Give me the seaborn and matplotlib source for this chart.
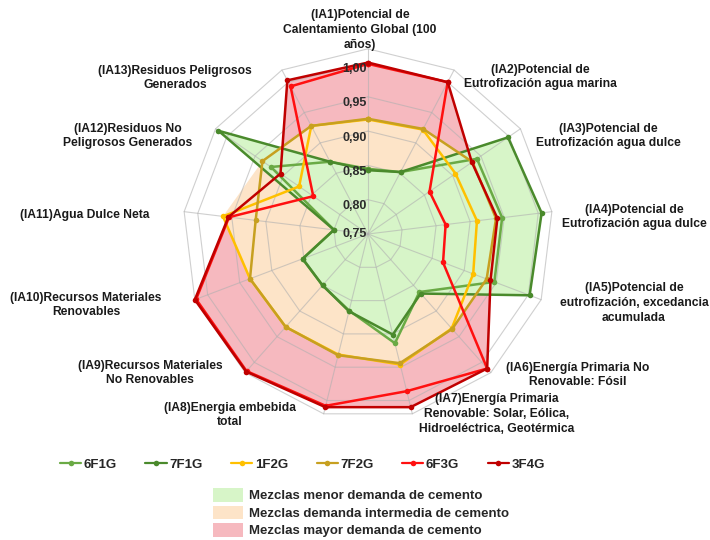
import numpy as np
import pandas as pd
import matplotlib
matplotlib.use("Agg")
import matplotlib.pyplot as plt
import matplotlib.transforms as mtrans
import matplotlib.legend as mlegend
from matplotlib.lines import Line2D
from matplotlib.patches import Patch
import seaborn as sns

# ---------------- data ----------------
categories = [
    "(IA1)Potencial de\nCalentamiento Global (100\naños)",
    "(IA2)Potencial de\nEutrofización agua marina",
    "(IA3)Potencial de\nEutrofización agua dulce",
    "(IA4)Potencial de\nEutrofización agua dulce",
    "(IA5)Potencial de\neutrofización, excedancia\nacumulada",
    "(IA6)Energía Primaria No\nRenovable: Fósil",
    "(IA7)Energía Primaria\nRenovable: Solar, Eólica,\nHidroeléctrica, Geotérmica",
    "(IA8)Energia embebida\ntotal",
    "(IA9)Recursos Materiales\nNo Renovables",
    "(IA10)Recursos Materiales\nRenovables",
    "(IA11)Agua Dulce Neta",
    "(IA12)Residuos No\nPeligrosos Generados",
    "(IA13)Residuos Peligrosos\nGenerados",
]
series_names = ["6F1G", "7F1G", "1F2G", "7F2G", "6F3G", "3F4G"]
v_6F1G = [0.845, 0.852, 0.943, 0.947, 0.947, 0.863, 0.914, 0.865, 0.850, 0.852, 0.800, 0.922, 0.869]
v_7F1G = [0.843, 0.852, 0.998, 1.005, 1.002, 0.866, 0.901, 0.866, 0.850, 0.852, 0.800, 1.015, 0.869]
v_1F2G = [0.917, 0.922, 0.905, 0.910, 0.914, 0.934, 0.946, 0.931, 0.931, 0.934, 0.963, 0.872, 0.928]
v_7F2G = [0.918, 0.923, 0.935, 0.938, 0.935, 0.935, 0.944, 0.932, 0.931, 0.934, 0.915, 0.937, 0.928]
v_6F3G = [0.998, 1.000, 0.859, 0.864, 0.867, 1.012, 0.986, 1.008, 1.017, 1.018, 0.954, 0.847, 0.993]
v_3F4G = [1.000, 1.000, 0.934, 0.940, 0.941, 1.012, 1.010, 1.010, 1.018, 1.020, 0.955, 0.905, 1.003]
tick_values = [0.75, 0.80, 0.85, 0.90, 0.95, 1.00]
tick_labels = ["0,75", "0,80", "0,85", "0,90", "0,95", "1,00"]
group_names = ["Mezclas menor demanda de cemento",
               "Mezclas demanda intermedia de cemento",
               "Mezclas mayor demanda de cemento"]

# ---------------- style ----------------
sns.set_theme(style="white")
plt.rcParams["font.family"] = ["Liberation Sans", "DejaVu Sans"]
plt.rcParams["font.weight"] = "bold"

colors = {"6F1G": "#6aaa45", "7F1G": "#4a8a2c", "1F2G": "#ffc000",
          "7F2G": "#c7a020", "6F3G": "#ff1010", "3F4G": "#c00000"}
fill_colors = ["#d7f5c8", "#fde4c8", "#f6b9bf"]

values = {"6F1G": v_6F1G, "7F1G": v_7F1G, "1F2G": v_1F2G,
          "7F2G": v_7F2G, "6F3G": v_6F3G, "3F4G": v_3F4G}

n = len(categories)
theta = np.linspace(0, 2 * np.pi, n, endpoint=False)
theta_c = np.append(theta, 2 * np.pi)

rows = []
for s in series_names:
    vals = values[s] + [values[s][0]]
    for t, v in zip(theta_c, vals):
        rows.append({"serie": s, "theta": t, "valor": v})
df = pd.DataFrame(rows)

W, H = 710, 540
fig = plt.figure(figsize=(W / 100, H / 100), dpi=100)
cx, cy, R = 368, 234, 185.2
rmin, rmax = 0.75, 1.02
ax = fig.add_axes([(cx - R) / W, (H - cy - R) / H, 2 * R / W, 2 * R / H], projection="polar")
ax.set_theta_zero_location("N")
ax.set_theta_direction(-1)
ax.set_ylim(rmin, rmax)
ax.grid(False)
ax.set_xticks([])
ax.set_yticks([])
ax.spines["polar"].set_visible(False)
ax.set_facecolor("none")

# group fills (envelope of each group's series)
groups = [("6F1G", "7F1G"), ("1F2G", "7F2G"), ("6F3G", "3F4G")]
for gi in [2, 1, 0]:
    a, b = groups[gi]
    env = np.maximum(values[a], values[b])
    env = np.append(env, env[0])
    ax.fill(theta_c, env, color=fill_colors[gi], zorder=1 + (2 - gi) * 0.1, lw=0, clip_on=False)

# polygon grid
for v in [0.80, 0.85, 0.90, 0.95, 1.00, rmax]:
    ax.plot(theta_c, [v] * len(theta_c), color="#b0b0b0", lw=0.8, alpha=0.6, zorder=2, clip_on=False)
for t in theta:
    ax.plot([t, t], [rmin, rmax], color="#b0b0b0", lw=0.8, alpha=0.6, zorder=2, clip_on=False)

# series lines
sns.lineplot(data=df, x="theta", y="valor", hue="serie", palette=colors,
             hue_order=series_names, sort=False, estimator=None,
             marker="o", markersize=4, markeredgewidth=0, linewidth=1.8,
             legend=False, ax=ax, zorder=5)
for ln in ax.get_lines():
    ln.set_clip_on(False)
ax.set_xlabel("")
ax.set_ylabel("")

# radial value labels
for v, lab in zip(tick_values, tick_labels):
    dy = 0 if v == rmin else -6.5
    tr = mtrans.offset_copy(ax.transData, fig=fig, x=-1, y=dy, units="dots")
    ax.text(0, v, lab, transform=tr, ha="right", va="center", fontsize=9,
            fontweight="bold", color="#2b2b2b", zorder=6)

# category labels
label_pos = [(360, 30), (540, 77), (608, 136), (634, 217), (634, 303), (578, 375),
             (497, 414), (230, 415), (150, 373), (86, 305), (85, 215), (128, 136), (175, 78)]
for lab, (x, y) in zip(categories, label_pos):
    fig.text(x / W, 1 - y / H, lab, ha="center", va="center", multialignment="center",
             fontsize=8.7, fontweight="bold", color="#1a1a1a", linespacing=1.3)

# legends
handles = [Line2D([0], [0], color=colors[s], lw=1.6, marker="o", markersize=4,
                  markeredgewidth=0) for s in series_names]
fig.legend(handles, series_names, loc="lower left", ncol=6, mode="expand",
           bbox_to_anchor=(60 / W, 1 - 471 / H, (545 - 60) / W, 16 / H),
           frameon=False, fontsize=9.5, handlelength=1.6, handletextpad=0.2,
           borderaxespad=0, borderpad=0)
patches = [Patch(facecolor=c, edgecolor="none") for c in fill_colors]
leg2 = mlegend.Legend(fig, patches, group_names, loc="upper left",
                      bbox_to_anchor=(213 / W, 1 - 488 / H), frameon=False,
                      fontsize=9.5, handlelength=2.3, handleheight=1.2,
                      handletextpad=0.4, labelspacing=0.25, borderaxespad=0, borderpad=0)
fig.legends.append(leg2)

fig.savefig("out.png", dpi=100)
